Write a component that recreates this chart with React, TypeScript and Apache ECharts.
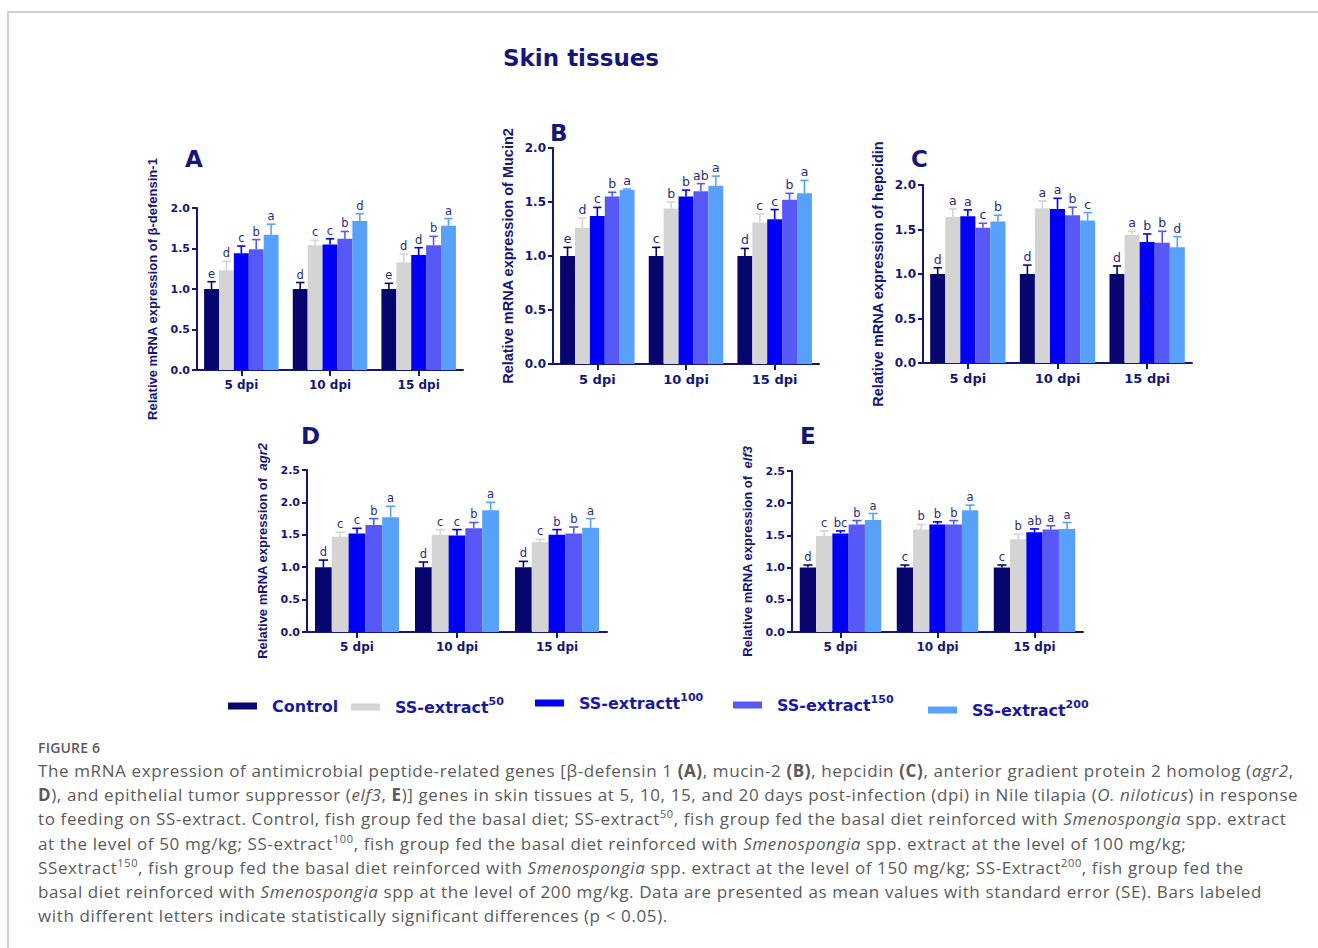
import React, { useEffect, useRef } from "react";
import * as echarts from "echarts";

// ---------- data ----------
const categories = ["5 dpi", "10 dpi", "15 dpi"];
const groupNames = ["Control", "SS-extract50", "SS-extractt100", "SS-extract150", "SS-extract200"];
const legendBase = ["Control", "SS-extract", "SS-extractt", "SS-extract", "SS-extract"];
const legendSup = ["", "50", "100", "150", "200"];
const yTicksMaxA = 2.0;
const yTicksMaxD = 2.5;

// Panel A: beta-defensin-1  (rows = groups, cols = 5/10/15 dpi)
const defensinMeans = [
  [1.0, 1.0, 1.0],
  [1.23, 1.54, 1.33],
  [1.44, 1.55, 1.42],
  [1.49, 1.62, 1.54],
  [1.67, 1.84, 1.78],
];
const defensinErrs = [
  [0.09, 0.08, 0.07],
  [0.11, 0.06, 0.1],
  [0.09, 0.07, 0.09],
  [0.12, 0.09, 0.11],
  [0.13, 0.09, 0.09],
];
const defensinLetters = [
  ["e", "d", "e"],
  ["d", "c", "d"],
  ["c", "c", "d"],
  ["b", "b", "b"],
  ["a", "d", "a"],
];

// Panel B: Mucin2
const mucinMeans = [
  [1.0, 1.0, 1.0],
  [1.26, 1.44, 1.31],
  [1.37, 1.55, 1.34],
  [1.55, 1.6, 1.52],
  [1.61, 1.65, 1.58],
];
const mucinErrs = [
  [0.08, 0.08, 0.07],
  [0.09, 0.06, 0.08],
  [0.08, 0.06, 0.09],
  [0.04, 0.07, 0.06],
  [0.01, 0.09, 0.12],
];
const mucinLetters = [
  ["e", "c", "d"],
  ["d", "b", "c"],
  ["c", "b", "c"],
  ["b", "ab", "b"],
  ["a", "a", "a"],
];

// Panel C: hepcidin
const hepcidinMeans = [
  [1.0, 1.0, 1.0],
  [1.64, 1.74, 1.44],
  [1.65, 1.73, 1.36],
  [1.52, 1.66, 1.35],
  [1.59, 1.6, 1.3],
];
const hepcidinErrs = [
  [0.07, 0.1, 0.09],
  [0.09, 0.08, 0.04],
  [0.07, 0.12, 0.09],
  [0.05, 0.09, 0.13],
  [0.07, 0.09, 0.12],
];
const hepcidinLetters = [
  ["d", "d", "d"],
  ["a", "a", "a"],
  ["a", "a", "b"],
  ["c", "b", "b"],
  ["b", "c", "d"],
];
// stray letter printed inside the 15 dpi SS-extractt100 bar
const hepcidinStray = { cat: 2, group: 2, value: 0.68, text: "c" };

// Panel D: agr2
const agr2Means = [
  [1.0, 1.0, 1.0],
  [1.47, 1.5, 1.39],
  [1.52, 1.49, 1.5],
  [1.65, 1.6, 1.52],
  [1.77, 1.88, 1.61],
];
const agr2Errs = [
  [0.11, 0.08, 0.09],
  [0.07, 0.08, 0.04],
  [0.08, 0.09, 0.08],
  [0.1, 0.09, 0.1],
  [0.17, 0.12, 0.14],
];
const agr2Letters = [
  ["d", "d", "d"],
  ["c", "c", "c"],
  ["c", "c", "b"],
  ["b", "b", "b"],
  ["a", "a", "a"],
];

// Panel E: elf3
const elf3Means = [
  [1.0, 1.0, 1.0],
  [1.49, 1.59, 1.44],
  [1.53, 1.67, 1.55],
  [1.67, 1.67, 1.59],
  [1.74, 1.89, 1.6],
];
const elf3Errs = [
  [0.04, 0.04, 0.04],
  [0.08, 0.08, 0.08],
  [0.04, 0.04, 0.05],
  [0.06, 0.06, 0.06],
  [0.1, 0.08, 0.1],
];
const elf3Letters = [
  ["d", "c", "c"],
  ["c", "b", "b"],
  ["bc", "b", "ab"],
  ["b", "b", "a"],
  ["a", "a", "a"],
];

// ---------- styles / layout ----------
const groupColors = ["#06066e", "#d4d4d4", "#0000f6", "#5858f6", "#57a1fb"];
const NAVY = "#15157a";
const LETTER = "#2a2a88";
const GAP = 0.16;
const SANS = "DejaVu Sans";
const ARIAL = "Liberation Sans";

type Panel = {
  tag: string;
  yName: string;
  yNameSize: number;
  tickSize: number;
  catSize: number;
  ymax: number;
  grid: { left: number; top: number; width: number; height: number };
  tagPos: [number, number];
  means: number[][];
  errs: number[][];
  letters: string[][];
};

const panels: Panel[] = [
  {
    tag: "A",
    yName: "Relative mRNA expression of β-defensin-1",
    yNameSize: 13,
    tickSize: 11,
    catSize: 12,
    ymax: yTicksMaxA,
    grid: { left: 197, top: 208, width: 266, height: 162 },
    tagPos: [185, 147],
    means: defensinMeans,
    errs: defensinErrs,
    letters: defensinLetters,
  },
  {
    tag: "B",
    yName: "Relative mRNA expression of Mucin2",
    yNameSize: 14.5,
    tickSize: 12,
    catSize: 13,
    ymax: yTicksMaxA,
    grid: { left: 553, top: 148, width: 266, height: 216 },
    tagPos: [550, 121],
    means: mucinMeans,
    errs: mucinErrs,
    letters: mucinLetters,
  },
  {
    tag: "C",
    yName: "Relative mRNA expression of hepcidin",
    yNameSize: 14.5,
    tickSize: 12,
    catSize: 13,
    ymax: yTicksMaxA,
    grid: { left: 923, top: 185, width: 269, height: 178 },
    tagPos: [911, 147],
    means: hepcidinMeans,
    errs: hepcidinErrs,
    letters: hepcidinLetters,
  },
  {
    tag: "D",
    yName: "Relative mRNA expression of  {i|agr2}",
    yNameSize: 13,
    tickSize: 11,
    catSize: 12,
    ymax: yTicksMaxD,
    grid: { left: 307, top: 470, width: 300, height: 162 },
    tagPos: [301, 424],
    means: agr2Means,
    errs: agr2Errs,
    letters: agr2Letters,
  },
  {
    tag: "E",
    yName: "Relative mRNA expression of  {i|elf3}",
    yNameSize: 13,
    tickSize: 11,
    catSize: 12,
    ymax: yTicksMaxD,
    grid: { left: 792, top: 471, width: 291, height: 161 },
    tagPos: [800, 424],
    means: elf3Means,
    errs: elf3Errs,
    letters: elf3Letters,
  },
];

const legendLeft = [228, 351, 535, 733, 928];
const legendTop = [698, 696, 692, 694, 699];

function barX(api: any, cat: number, g: number, value: number) {
  const band = api.size([1, 0])[0];
  const groupW = band * (1 - GAP);
  const bw = groupW / groupNames.length;
  const base = api.coord([cat, value]);
  return { x: base[0] - groupW / 2 + (g + 0.5) * bw, y: base[1], bw };
}

function buildOption() {
  const grid: any[] = [];
  const xAxis: any[] = [];
  const yAxis: any[] = [];
  const series: any[] = [];
  const graphic: any[] = [];

  panels.forEach((p, idx) => {
    grid.push({ ...p.grid, containLabel: false });
    xAxis.push({
      type: "category",
      gridIndex: idx,
      data: categories,
      boundaryGap: true,
      axisLine: { show: true, lineStyle: { color: NAVY, width: 2 } },
      axisTick: { show: true, alignWithLabel: true, length: 6, lineStyle: { color: NAVY, width: 2 } },
      axisLabel: {
        color: NAVY,
        fontFamily: SANS,
        fontWeight: "bold",
        fontSize: p.catSize,
        margin: 9,
      },
      splitLine: { show: false },
    });
    yAxis.push({
      type: "value",
      gridIndex: idx,
      min: 0,
      max: p.ymax,
      interval: 0.5,
      name: p.yName,
      nameLocation: "middle",
      nameGap: 38,
      nameTextStyle: {
        color: NAVY,
        fontFamily: ARIAL,
        fontWeight: "bold",
        fontSize: p.yNameSize,
        rich: {
          i: { color: NAVY, fontFamily: ARIAL, fontWeight: "bold", fontStyle: "italic", fontSize: p.yNameSize },
        },
      },
      axisLine: { show: true, lineStyle: { color: NAVY, width: 2 } },
      axisTick: { show: true, length: 5, lineStyle: { color: NAVY, width: 2 } },
      axisLabel: {
        color: NAVY,
        fontFamily: SANS,
        fontWeight: "bold",
        fontSize: p.tickSize,
        margin: 7,
        formatter: (v: number) => v.toFixed(1),
      },
      splitLine: { show: false },
    });

    groupNames.forEach((name, g) => {
      series.push({
        type: "bar",
        name,
        xAxisIndex: idx,
        yAxisIndex: idx,
        data: p.means[g],
        barGap: "0%",
        barCategoryGap: `${GAP * 100}%`,
        itemStyle: { color: groupColors[g] },
        emphasis: { disabled: true },
        z: 2,
      });
    });

    const errData: number[][] = [];
    groupNames.forEach((_, g) => {
      categories.forEach((__, c) => {
        errData.push([c, p.means[g][c] + p.errs[g][c], g, p.means[g][c]]);
      });
    });
    series.push({
      type: "custom",
      xAxisIndex: idx,
      yAxisIndex: idx,
      silent: true,
      z: 5,
      data: errData,
      encode: { x: 0, y: 1 },
      renderItem: (_params: any, api: any) => {
        const cat = api.value(0);
        const top = api.value(1);
        const g = api.value(2);
        const mean = api.value(3);
        const { x, y, bw } = barX(api, cat, g, mean);
        const yTop = api.coord([cat, top])[1];
        const color = groupColors[g];
        const cap = bw * 0.28;
        return {
          type: "group",
          children: [
            { type: "line", shape: { x1: x, y1: y, x2: x, y2: yTop }, style: { stroke: color, lineWidth: 1.6 } },
            { type: "line", shape: { x1: x - cap, y1: yTop, x2: x + cap, y2: yTop }, style: { stroke: color, lineWidth: 1.6 } },
            {
              type: "text",
              x,
              y: yTop - 2,
              style: {
                text: p.letters[g][cat],
                textAlign: "center",
                textVerticalAlign: "bottom",
                fill: LETTER,
                font: `${p.tickSize + 0.5}px '${SANS}'`,
              },
            },
          ],
        };
      },
    });

    graphic.push({
      type: "text",
      left: p.tagPos[0],
      top: p.tagPos[1],
      style: { text: p.tag, fill: NAVY, font: `bold 23px '${SANS}'` },
    });
  });

  // stray letter in panel C
  series.push({
    type: "custom",
    xAxisIndex: 2,
    yAxisIndex: 2,
    silent: true,
    z: 6,
    data: [[hepcidinStray.cat, hepcidinStray.value, hepcidinStray.group]],
    encode: { x: 0, y: 1 },
    renderItem: (_params: any, api: any) => {
      const { x, y } = barX(api, api.value(0), api.value(2), api.value(1));
      return {
        type: "text",
        x,
        y,
        style: {
          text: hepcidinStray.text,
          textAlign: "center",
          textVerticalAlign: "middle",
          fill: "#1a1a60",
          font: `12px '${SANS}'`,
        },
      };
    },
  });

  const legend = groupNames.map((n, g) => ({
    data: [n],
    left: legendLeft[g],
    top: legendTop[g],
    padding: 0,
    itemWidth: 29,
    itemHeight: 7,
    icon: "rect",
    selectedMode: false,
    formatter: () =>
      legendSup[g] ? `{b|${legendBase[g]}}{s|${legendSup[g]}}` : `{b|${legendBase[g]}}`,
    textStyle: {
      padding: [0, 0, 0, 10],
      rich: {
        b: { color: "#1a1aa0", fontFamily: SANS, fontWeight: "bold", fontSize: 16, lineHeight: 22 },
        s: { color: "#1a1aa0", fontFamily: SANS, fontWeight: "bold", fontSize: 11, lineHeight: 12, verticalAlign: "top" },
      },
    },
  }));

  return {
    animation: false,
    backgroundColor: "transparent",
    title: {
      text: "Skin tissues",
      left: 503,
      top: 46,
      padding: 0,
      textStyle: { color: NAVY, fontFamily: SANS, fontWeight: "bold", fontSize: 23 },
    },
    legend,
    grid,
    xAxis,
    yAxis,
    series,
    graphic,
  };
}

const captionStyle: React.CSSProperties = {
  position: "absolute",
  left: 38,
  top: 759,
  fontFamily: "'Open Sans', sans-serif",
  fontSize: 17,
  letterSpacing: "0.62px",
  lineHeight: "24.2px",
  color: "#5a5a5a",
  whiteSpace: "nowrap",
};
const supStyle: React.CSSProperties = { fontSize: 11, verticalAlign: "super", lineHeight: 0 };

export default function App() {
  const ref = useRef<HTMLDivElement>(null);
  useEffect(() => {
    if (!ref.current) return;
    const chart = echarts.init(ref.current, undefined, { renderer: "svg" });
    chart.setOption(buildOption() as any);
    return () => chart.dispose();
  }, []);
  return (
    <div style={{ position: "absolute", left: 0, top: 0, width: 1318, height: 948, background: "#fff", overflow: "hidden" }}>
      <div
        style={{
          position: "absolute",
          left: 7,
          top: 11,
          width: 1320,
          height: 950,
          borderTop: "2px solid #cfcfcf",
          borderLeft: "2px solid #cfcfcf",
          boxSizing: "border-box",
        }}
      />
      <div ref={ref} style={{ position: "absolute", left: 0, top: 0, width: 1318, height: 740 }} />
      <div
        style={{
          position: "absolute",
          left: 38,
          top: 740,
          fontFamily: "'Open Sans', sans-serif",
          fontSize: 14,
          fontWeight: 600,
          lineHeight: "16px",
          color: "#5a5a5a",
          letterSpacing: 0.2,
        }}
      >
        FIGURE 6
      </div>
      <div style={captionStyle}>
        The mRNA expression of antimicrobial peptide-related genes [β-defensin 1 <b>(A)</b>, mucin-2 <b>(B)</b>, hepcidin{" "}
        <b>(C)</b>, anterior gradient protein 2 homolog (<i>agr2</i>,
        <br />
        <b>D</b>), and epithelial tumor suppressor (<i>elf3</i>, <b>E</b>)] genes in skin tissues at 5, 10, 15, and 20 days
        post-infection (dpi) in Nile tilapia (<i>O. niloticus</i>) in response
        <br />
        to feeding on SS-extract. Control, fish group fed the basal diet; SS-extract<sup style={supStyle}>50</sup>, fish group
        fed the basal diet reinforced with <i>Smenospongia</i> spp. extract
        <br />
        at the level of 50 mg/kg; SS-extract<sup style={supStyle}>100</sup>, fish group fed the basal diet reinforced with{" "}
        <i>Smenospongia</i> spp. extract at the level of 100 mg/kg;
        <br />
        SSextract<sup style={supStyle}>150</sup>, fish group fed the basal diet reinforced with <i>Smenospongia</i> spp. extract
        at the level of 150 mg/kg; SS-Extract<sup style={supStyle}>200</sup>, fish group fed the
        <br />
        basal diet reinforced with <i>Smenospongia</i> spp at the level of 200 mg/kg. Data are presented as mean values with
        standard error (SE). Bars labeled
        <br />
        with different letters indicate statistically significant differences (p &lt; 0.05).
      </div>
    </div>
  );
}
